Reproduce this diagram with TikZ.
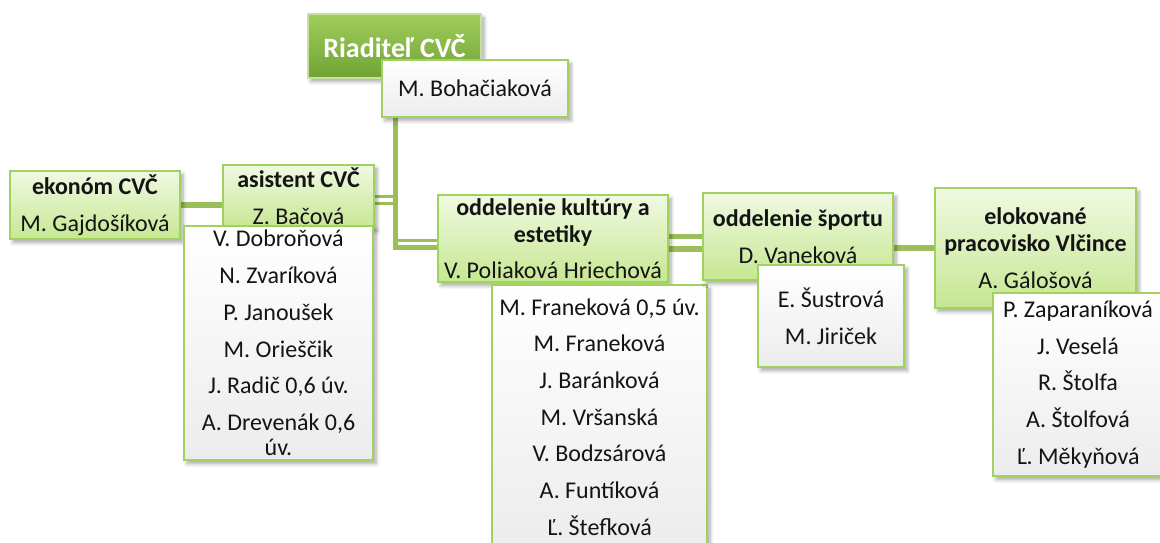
\documentclass[tikz,border=0pt]{standalone}
\usepackage{fontspec}
\setmainfont{Carlito}
\usetikzlibrary{shadows.blur,backgrounds}

\definecolor{linkgreen}{RGB}{155,190,89}
\definecolor{boxline}{RGB}{160,210,96}
\definecolor{boxtop}{RGB}{240,249,226}
\definecolor{boxbottom}{RGB}{198,231,146}
\definecolor{headtop}{RGB}{160,205,94}
\definecolor{headbottom}{RGB}{112,163,52}
\definecolor{listbottom}{RGB}{236,236,236}
\definecolor{ink}{RGB}{20,20,20}

\def\nl{\\[5.85pt]}
\def\tl{\\[4.8pt]}

\tikzset{
  softshadow/.style={blur shadow={shadow xshift=1.5pt, shadow yshift=-1.8pt, shadow blur steps=6, shadow opacity=35}},
  headbox/.style={draw=headtop!60!white, line width=0.75pt, top color=headtop, bottom color=headbottom,
    text=white, font=\fontsize{14}{16}\selectfont\bfseries, inner sep=0pt, softshadow},
  unitbox/.style={draw=boxline, line width=0.75pt, top color=boxtop, bottom color=boxbottom,
    text=ink, font=\fontsize{12}{13.5}\selectfont, align=flush center, inner sep=0pt, softshadow},
  listbox/.style={draw=boxline, line width=0.75pt, top color=white, bottom color=listbottom,
    text=ink, font=\fontsize{12}{12.5}\selectfont, align=flush center, inner sep=0pt, softshadow},
  link/.style={draw=linkgreen, line width=#1},
  link/.default=2.5pt
}

\begin{document}
\begin{tikzpicture}[x=0.5pt,y=-0.5pt]
	\useasboundingbox (0,0) rectangle (1160,542);

	% vedenie
	\node[headbox, minimum width=86.5pt, minimum height=32pt] (boss) at (394.5,46) {Riaditeľ CVČ};
	\node[listbox, text width=93pt, minimum height=28.5pt] (bohac) at (475,88.5) {M. Bohačiaková};

	% ekonom a asistent
	\node[unitbox, text width=85pt, minimum height=34pt] (ekonom) at (95,205) {\textbf{ekonóm CVČ}\tl M. Gajdošíková};
	\node[unitbox, text width=75.5pt, minimum height=31.5pt] (asistent) at (298.5,196.5) {\textbf{asistent CVČ}\tl Z. Bačová};
	\node[listbox, text width=94.5pt, minimum height=117pt] (asistlist) at (278.5,343)
		{V. Dobroňová\nl N. Zvaríková\nl P. Janoušek\nl M. Orieščik\nl J. Radič 0,6 úv.\nl A. Drevenák 0,6\\úv.};

	% oddelenia
	\node[unitbox, text width=115pt, minimum height=43.5pt] (kultura) at (553,238.5)
		{\textbf{oddelenie kultúry a}\\\textbf{estetiky}\tl V. Poliaková Hriechová};
	\node[listbox, text width=107.5pt, minimum height=132pt] (kultlist) at (599.5,417)
		{M. Franeková 0,5 úv.\nl M. Franeková\nl J. Baránková\nl M. Vršanská\nl V. Bodzsárová\nl A. Funtíková\nl Ľ. Štefková};

	\node[unitbox, text width=95pt, minimum height=43.5pt] (sport) at (798,236.5) {\textbf{oddelenie športu}\tl D. Vaneková};
	\node[listbox, text width=73pt, minimum height=51pt] (sportlist) at (831,316) {E. Šustrová\nl M. Jiriček};

	\node[unitbox, text width=100.5pt, minimum height=60pt] (elok) at (1035.5,248)
		{\textbf{elokované}\\\textbf{pracovisko Vlčince}\tl A. Gálošová};
	\node[listbox, text width=85pt, minimum height=91.5pt] (eloklist) at (1078,384.5)
		{P. Zaparaníková\nl J. Veselá\nl R. Štolfa\nl A. Štolfová\nl Ľ. Měkyňová};

	% spojnice
	\begin{scope}[on background layer]
		\coordinate (trunk) at (395,247.5);
		\coordinate (uplink) at ([yshift=-0.75pt]kultura.west);
		\coordinate (aslow) at ([yshift=-3.5pt]asistent.east);
		\coordinate (lowlink) at ([yshift=-6pt]sport.west);
		\draw[link] (bohac.south -| trunk) -- (trunk) -- (trunk -| kultura.west);
		\draw[link=1.5pt] (uplink) -- (uplink -| trunk);
		\draw[link=1.25pt] (asistent.east) -- (asistent.east -| trunk);
		\draw[link=1.6pt] (aslow) -- (aslow -| trunk);
		\draw[link=3pt] (ekonom.east) -- (ekonom.east -| asistent.west);
		\draw[link] (sport.west -| kultura.east) -- (sport.west);
		\draw[link=3pt] (lowlink) -- (lowlink -| kultura.east);
		\draw[link=3pt] (elok.west -| sport.east) -- (elok.west);
	\end{scope}
\end{tikzpicture}
\end{document}
